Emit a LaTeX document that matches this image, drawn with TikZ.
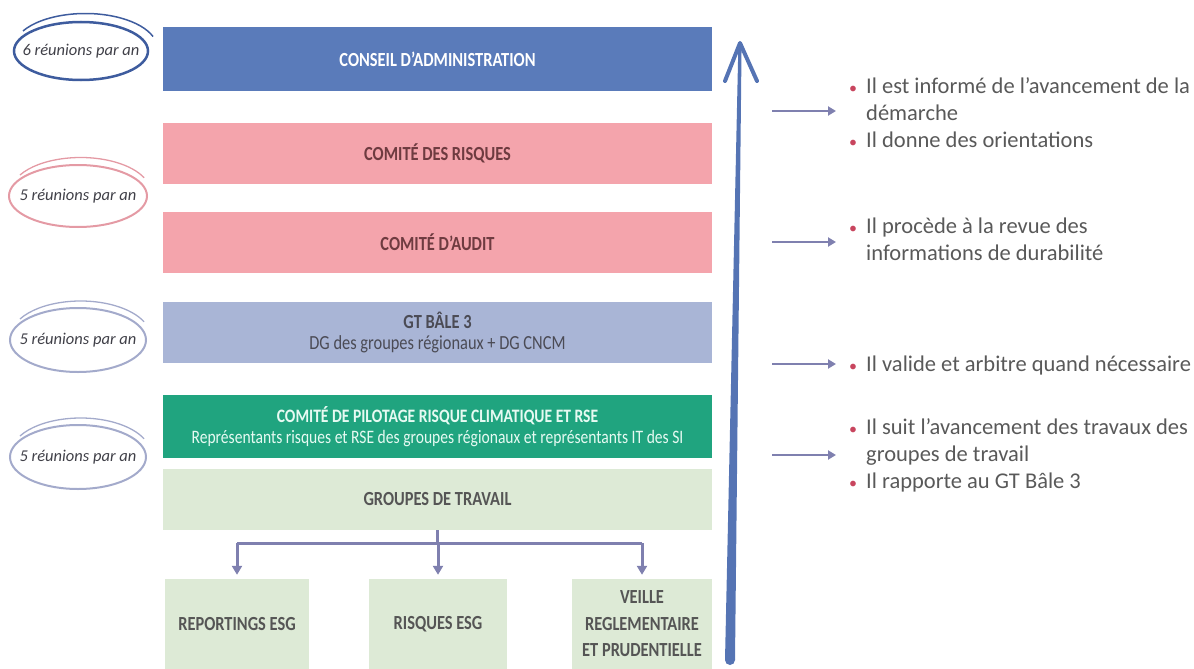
\documentclass[tikz,border=0pt]{standalone}
\usepackage{fontspec}
\setmainfont{Carlito}
\newfontfamily\cond[FakeStretch=0.82]{Carlito}
\usetikzlibrary{arrows.meta}
\definecolor{cblue}{HTML}{5A7BBA}
\definecolor{cpink}{HTML}{F4A4AC}
\definecolor{cpinktxt}{HTML}{6E3B40}
\definecolor{cgt}{HTML}{A9B5D6}
\definecolor{cgttxt}{HTML}{4B4B55}
\definecolor{cgreen}{HTML}{20A47F}
\definecolor{cgreentxt}{HTML}{E6FAF2}
\definecolor{clight}{HTML}{DDEAD6}
\definecolor{cgray}{HTML}{555555}
\definecolor{cconn}{HTML}{7F80AF}
\definecolor{cbig}{HTML}{5574B4}
\definecolor{ctext}{HTML}{595959}
\definecolor{cbul}{HTML}{C8455E}
\definecolor{ce1}{HTML}{3E5C9E}
\definecolor{ce2}{HTML}{E49AA4}
\definecolor{ce3}{HTML}{A3AACB}
\definecolor{cetxt}{HTML}{404048}
\begin{document}
\begin{tikzpicture}[x=1pt,y=-1pt,
  bar/.style={minimum width=549pt, inner sep=0pt, align=center,
    font=\cond\fontsize{20}{21}\selectfont\bfseries},
  subbox/.style={fill=clight, text=cgray, minimum height=90pt, inner sep=0pt,
    align=center, font=\cond\fontsize{20}{26.5}\selectfont\bfseries},
  conn/.style={draw=cconn, line width=3pt},
  rarrow/.style={draw=cconn, line width=2.5pt, -{Triangle[width=9pt,length=8pt]}},
  etext/.style={inner sep=0pt, text=cetxt, font=\fontsize{16.5}{18}\selectfont\itshape},
  rtext/.style={anchor=base west, inner sep=0pt, text=ctext, font=\fontsize{22.5}{27}\selectfont},
  bul/.style={anchor=base west, inner sep=0pt, text=cbul, font=\fontsize{16}{27}\selectfont}
]
\useasboundingbox (0,0) rectangle (1194,669);

% main bars
\node[bar, fill=cblue, text=white, minimum height=64pt] (ca) at (437.5,59) {CONSEIL D’ADMINISTRATION};
\node[bar, fill=cpink, text=cpinktxt, minimum height=61pt] (cr) at (437.5,153.5) {COMITÉ DES RISQUES};
\node[bar, fill=cpink, text=cpinktxt, minimum height=61pt] (cau) at (437.5,242.5) {COMITÉ D’AUDIT};
\node[bar, fill=cgt, text=cgttxt, minimum height=61pt, font=\cond\fontsize{20}{21}\selectfont] (gt) at (437.5,332.5)
  {\bfseries GT BÂLE 3\\DG des groupes régionaux + DG CNCM};
\node[bar, fill=cgreen, text=cgreentxt, minimum height=63pt, font=\cond\fontsize{19}{21}\selectfont] (cp) at (437.5,426.5)
  {\bfseries COMITÉ DE PILOTAGE RISQUE CLIMATIQUE ET RSE\\Représentants risques et RSE des groupes régionaux et représentants IT des SI};
\node[bar, fill=clight, text=cgray, minimum height=61pt] (gw) at (437.5,499.5) {GROUPES DE TRAVAIL};

% working groups
\node[subbox, minimum width=144pt] (rep) at (237,624) {REPORTINGS ESG};
\node[subbox, minimum width=138pt] (ris) at (438,624) {RISQUES ESG};
\node[subbox, minimum width=140pt] (vei) at (642,624) {VEILLE\\REGLEMENTAIRE\\ET PRUDENTIELLE};

\coordinate (hub) at (437.5,543);
\draw[conn] (gw.south) -- (gw.south |- hub);
\draw[conn] (rep.north |- hub) -- (vei.north |- hub);
\foreach \n in {rep,ris,vei}
  \draw[conn,-{Triangle[width=10pt,length=9pt]}] (\n.north |- hub) -- ([yshift=4pt]\n.north);

% big upward arrow
\coordinate (ab) at (730,660);
\coordinate (at) at (740,43);
\fill[cbig] ([xshift=-5pt]ab) -- ([xshift=5pt]ab) -- ([xshift=1.6pt]at) -- ([xshift=-1.6pt]at) -- cycle;
\fill[cbig] (ab) circle (5pt);
\draw[cbig, line width=4pt, line cap=round, line join=round] ([shift={(-15pt,-38pt)}]at) -- (at) -- ([shift={(17pt,-38pt)}]at);

% left ellipses
\node[etext] (e1) at (81,51) {6 réunions par an};
\draw[ce1, line width=2.5pt] (e1.center) ellipse[x radius=67pt, y radius=29pt];
\draw[ce1, line width=1.5pt] ([shift={(-58pt,20pt)}]e1.center) arc[start angle=150, end angle=20, x radius=72pt, y radius=35pt];

\node[etext] (e2) at (78,196) {5 réunions par an};
\draw[ce2, line width=2pt] (e2.center) ellipse[x radius=69pt, y radius=31pt];
\draw[ce2, line width=1.3pt] ([shift={(-58pt,21pt)}]e2.center) arc[start angle=150, end angle=25, x radius=70pt, y radius=35pt];

\node[etext] (e3) at (78,340) {5 réunions par an};
\draw[ce3, line width=2pt] (e3.center) ellipse[x radius=68pt, y radius=32pt];
\draw[ce3, line width=1.3pt] ([shift={(-58pt,21pt)}]e3.center) arc[start angle=150, end angle=25, x radius=70pt, y radius=36pt];

\node[etext] (e4) at (78,457) {5 réunions par an};
\draw[ce3, line width=2pt] (e4.center) ellipse[x radius=68pt, y radius=32pt];
\draw[ce3, line width=1.3pt] ([shift={(-58pt,21pt)}]e4.center) arc[start angle=150, end angle=25, x radius=70pt, y radius=36pt];

% right arrows
\coordinate (r1a) at (772,111); \coordinate (r1b) at (836,111);
\coordinate (r2a) at (772,242); \coordinate (r2b) at (836,242);
\coordinate (r3a) at (772,364); \coordinate (r3b) at (836,364);
\coordinate (r4a) at (772,455); \coordinate (r4b) at (836,455);
\draw[rarrow] (r1a) -- (r1b);
\draw[rarrow] (r2a) -- (r2b);
\draw[rarrow] (r3a) -- (r3b);
\draw[rarrow] (r4a) -- (r4b);

% right texts
\node[bul] (b1) at (849,93) {•};
\node[rtext] (t1a) at (866,93) {Il est informé de l’avancement de la};
\node[rtext] (t1b) at (866,120) {démarche};
\node[bul] (b2) at (849,147) {•};
\node[rtext] (t2) at (866,147) {Il donne des orientations};
\node[bul] (b3) at (849,233) {•};
\node[rtext] (t3a) at (866,233) {Il procède à la revue des};
\node[rtext] (t3b) at (866,260) {informations de durabilité};
\node[bul] (b4) at (849,371) {•};
\node[rtext] (t4) at (866,371) {Il valide et arbitre quand nécessaire};
\node[bul] (b5) at (849,434) {•};
\node[rtext] (t5a) at (866,434) {Il suit l’avancement des travaux des};
\node[rtext] (t5b) at (866,461) {groupes de travail};
\node[bul] (b6) at (849,488) {•};
\node[rtext] (t6) at (866,488) {Il rapporte au GT Bâle 3};
\end{tikzpicture}
\end{document}
